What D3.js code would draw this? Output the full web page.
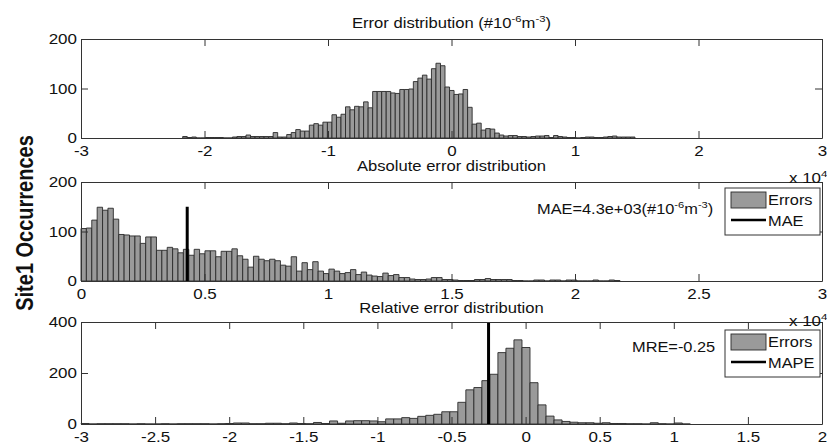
<!DOCTYPE html>
<html><head><meta charset="utf-8">
<script src="https://cdn.jsdelivr.net/npm/d3@7"></script>
<style>
body{margin:0;background:#fff}
svg{display:block}
text{font-family:"Liberation Sans",Arial,Helvetica,sans-serif;fill:#111}
</style>
</head><body>
<svg id="chart" width="827" height="448"></svg>
<script>
// ---- data (x axes in units of 10^4) ----
const errorCounts = [3,1,2,0,0,1,1,1,1,0, 0,2,3,3,6,3,3,3,3,3, 11,2,2,7,11,17,14,14,26,29,
  26,32,32,47,42,48,63,57,64,63, 73,61,94,94,94,94,91,90,98,98, 99,114,121,127,119,140,151,146,103,96,
  88,89,98,62,28,30,16,19,18,10, 6,4,5,5,3,3,2,3,4,4, 5,1,5,3,2,1,1,0,1,2, 2,1,1,2,3,4,2,2,2,2];
const errorBinStart = -2.1765;
const errorBinWidth = 0.03662;

const absCounts = [106,107,123,149,143,147,125,94,93,91, 91,76,89,89,62,62,68,65,57,64,
  52,64,55,61,61,49,60,60,65,51, 44,28,50,44,41,44,41,32,30,49, 20,37,23,39,20,15,24,20,15,17,
  23,13,18,12,10,9,16,11,13,7, 7,4,3,3,4,7,7,3,3,2, 1,1,1,3,3,5,3,3,3,3,
  1,1,0,0,2,2,0,2,2,0, 2,2,0,0,0,2,0,0,2,1];
const absBinStart = 0;
const absBinWidth = 0.02182;

const relCounts = [2,0,1,1,1,1,0,1,0,0, 1,0,1,1,1,1,0,1,2,4, 4,1,1,3,3,1,4,2,1,6,
  2,12,3,12,13,13,12,9,20,20, 25,22,30,34,38,48,48,85,134,143, 170,195,280,297,330,300,162,75,31,16,
  10,7,5,5,3,5,2,2,1,1, 0,5,1,0,4,0];
const relBinStart = -3;
const relBinWidth = 0.0541;

const maeValue = 4.3e3;        // #10^-6 m^-3
const maeLineTop = 150;
const mreValue = -0.25;
const mreLineTop = 400;

const errorXTicks = [-3,-2,-1,0,1,2,3];
const absXTicks = [0,0.5,1,1.5,2,2.5,3];
const relXTicks = [-3,-2.5,-2,-1.5,-1,-0.5,0,0.5,1,1.5,2];
const errorYTicks = [0,100,200];
const absYTicks = [0,100,200];
const relYTicks = [0,200,400];

// ---- layout ----
const SX = 1.17;               // horizontal text stretch
const L = 81, R = 822;
const TICK = 7;
const svg = d3.select("#chart");

// text with optional superscript parts ({sup: "..."})
function label(g, x, y, anchor, size, parts, weight) {
  const t = g.append("text")
    .attr("transform", `translate(${x},${y}) scale(${SX},1)`)
    .attr("text-anchor", anchor)
    .style("font-size", size + "px");
  if (weight) t.style("font-weight", weight);
  const lift = size * 0.42;
  let raised = false;
  parts.forEach(p => {
    const s = t.append("tspan");
    if (typeof p === "string") {
      if (raised) s.attr("dy", lift);
      raised = false;
      s.text(p);
    } else {
      s.attr("dy", raised ? 0 : -lift).style("font-size", (size * 0.68) + "px").text(p.sup);
      raised = true;
    }
  });
  return t;
}

function panel(cfg) {
  const g = svg.append("g");
  const x = d3.scaleLinear().domain(cfg.xDomain).range([L, R]);
  const y = d3.scaleLinear().domain(cfg.yDomain).range([cfg.bottom, cfg.top]);

  // histogram bars
  g.append("g").selectAll("path").data(cfg.counts).join("path")
    .attr("d", (d, i) => {
      const x0 = x(cfg.binStart + i * cfg.binWidth), x1 = x(cfg.binStart + (i + 1) * cfg.binWidth);
      const y0 = y(0), y1 = y(d);
      return `M${x0},${y0}V${y1}H${x1}V${y0}Z`;
    })
    .attr("fill", "#9a9a9a").attr("stroke", "#2a2a2a").attr("stroke-width", 0.9);

  // reference line
  if (cfg.vline) {
    g.append("line")
      .attr("x1", x(cfg.vline.x)).attr("x2", x(cfg.vline.x))
      .attr("y1", y(0)).attr("y2", y(cfg.vline.top))
      .attr("stroke", "#000").attr("stroke-width", 3);
  }

  const fmt = d => String(d);
  const axB = g.append("g").attr("transform", `translate(0,${cfg.bottom})`)
    .call(d3.axisBottom(x).tickValues(cfg.xTicks).tickSizeInner(-TICK).tickSizeOuter(0).tickPadding(7.5).tickFormat(fmt));
  axB.selectAll("text").attr("transform", `scale(${SX},1)`).style("font-size", "14.5px").attr("fill", "#111");
  const axT = g.append("g").attr("transform", `translate(0,${cfg.top})`)
    .call(d3.axisTop(x).tickValues(cfg.xTicks).tickSizeInner(-TICK).tickSizeOuter(0));
  axT.selectAll("text").remove();
  const axL = g.append("g").attr("transform", `translate(${L},0)`)
    .call(d3.axisLeft(y).tickValues(cfg.yTicks).tickSizeInner(-TICK).tickSizeOuter(0).tickPadding(3.5).tickFormat(fmt));
  axL.selectAll("text").attr("transform", `scale(${SX},1)`).style("font-size", "14.5px").attr("fill", "#111");
  const axR = g.append("g").attr("transform", `translate(${R},0)`)
    .call(d3.axisRight(y).tickValues(cfg.yTicks).tickSizeInner(-TICK).tickSizeOuter(0));
  axR.selectAll("text").remove();
  [axB, axT, axL, axR].forEach(a => {
    a.selectAll("line").attr("stroke", "#333");
    a.select(".domain").attr("stroke", "#333");
  });

  // title
  label(g, (L + R) / 2, cfg.titleY, "middle", 14.2, cfg.title);

  // exponent note
  if (cfg.expY) label(g, 789, cfg.expY, "start", 14.5, ["x 10", {sup: "4"}]);

  // annotation
  if (cfg.note) label(g, cfg.note.x, cfg.note.y, "start", 14, cfg.note.parts);

  // legend
  if (cfg.legend) {
    const lg = cfg.legend;
    g.append("rect").attr("x", 725).attr("y", lg.y).attr("width", 95).attr("height", 47)
      .attr("fill", "#fff").attr("stroke", "#333").attr("stroke-width", 1);
    g.append("rect").attr("x", 731).attr("y", lg.y + 4).attr("width", 35).attr("height", 16)
      .attr("fill", "#9a9a9a").attr("stroke", "#2a2a2a").attr("stroke-width", 0.9);
    g.append("line").attr("x1", 731).attr("x2", 766).attr("y1", lg.y + 32).attr("y2", lg.y + 32)
      .attr("stroke", "#000").attr("stroke-width", 2.5);
    label(g, 768, lg.y + 17, "start", 14, ["Errors"]);
    label(g, 768, lg.y + 37.5, "start", 14, [lg.lineName]);
  }
}

panel({
  top: 39, bottom: 138, xDomain: [-3, 3], yDomain: [0, 200],
  xTicks: errorXTicks, yTicks: errorYTicks,
  counts: errorCounts, binStart: errorBinStart, binWidth: errorBinWidth,
  title: ["Error distribution (#10", {sup: "-6"}, "m", {sup: "-3"}, ")"], titleY: 28
});

panel({
  top: 182, bottom: 281, xDomain: [0, 3], yDomain: [0, 200],
  xTicks: absXTicks, yTicks: absYTicks,
  counts: absCounts, binStart: absBinStart, binWidth: absBinWidth,
  vline: {x: maeValue / 1e4, top: maeLineTop},
  title: ["Absolute error distribution"], titleY: 170.5, expY: 183,
  note: {x: 537, y: 214, parts: ["MAE=" + d3.format(".1e")(maeValue).replace("e+3", "e+03") + "(#10", {sup: "-6"}, "m", {sup: "-3"}, ")"]},
  legend: {y: 188, lineName: "MAE"}
});

panel({
  top: 322, bottom: 424, xDomain: [-3, 2], yDomain: [0, 400],
  xTicks: relXTicks, yTicks: relYTicks,
  counts: relCounts, binStart: relBinStart, binWidth: relBinWidth,
  vline: {x: mreValue, top: mreLineTop},
  title: ["Relative error distribution"], titleY: 313, expY: 326,
  note: {x: 632, y: 352, parts: ["MRE=" + mreValue]},
  legend: {y: 330, lineName: "MAPE"}
});

// shared y label
svg.append("text")
  .attr("transform", `translate(33,223) scale(${SX},1) rotate(-90)`)
  .attr("text-anchor", "middle")
  .style("font-size", "20px").style("font-weight", "bold").attr("fill", "#3a3a3a")
  .text("Site1 Occurrences");
</script>
</body></html>
